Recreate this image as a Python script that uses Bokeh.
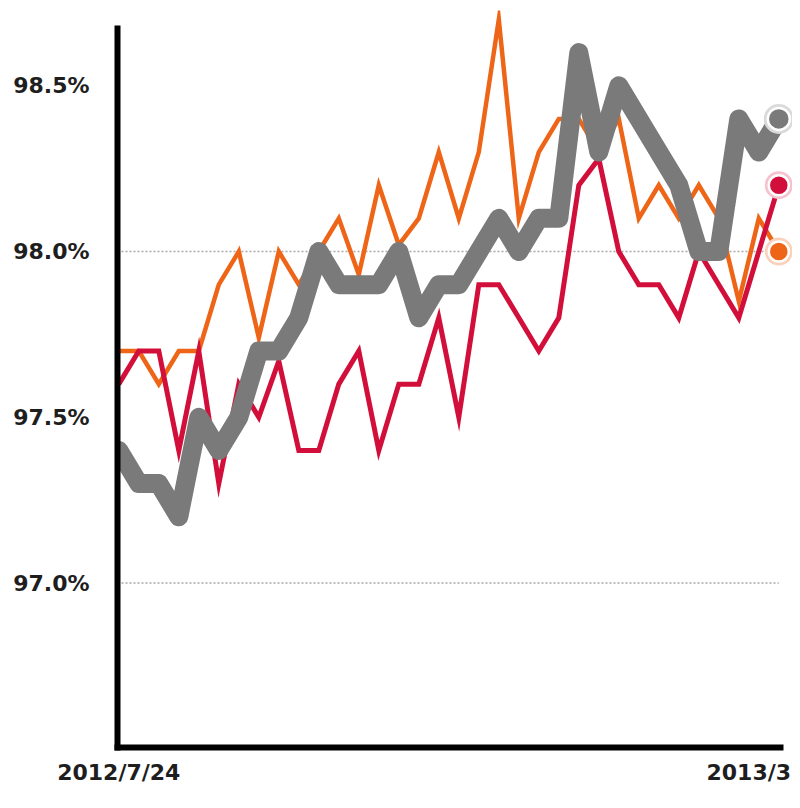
from bokeh.plotting import figure
from bokeh.models import Range1d, FixedTicker, PrintfTickFormatter
from bokeh.embed import file_html
from bokeh.resources import INLINE

# ---- data ----
periods = list(range(34))
series_orange = [97.7, 97.7, 97.6, 97.7, 97.7, 97.9, 98.0, 97.74, 98.0, 97.9,
                 98.0, 98.1, 97.93, 98.2, 98.02, 98.1, 98.3, 98.1, 98.3, 98.7,
                 98.1, 98.3, 98.4, 98.4, 98.3, 98.4, 98.1, 98.2, 98.1, 98.2,
                 98.1, 97.85, 98.1, 98.0]
series_red = [97.6, 97.7, 97.7, 97.4, 97.7, 97.3, 97.6, 97.5, 97.67, 97.4,
              97.4, 97.6, 97.7, 97.4, 97.6, 97.6, 97.8, 97.5, 97.9, 97.9,
              97.8, 97.7, 97.8, 98.2, 98.28, 98.0, 97.9, 97.9, 97.8, 98.0,
              97.9, 97.8, 98.0, 98.2]
series_gray = [97.4, 97.3, 97.3, 97.2, 97.5, 97.4, 97.5, 97.7, 97.7, 97.8,
               98.0, 97.9, 97.9, 97.9, 98.0, 97.8, 97.9, 97.9, 98.0, 98.1,
               98.0, 98.1, 98.1, 98.6, 98.3, 98.5, 98.4, 98.3, 98.2, 98.0,
               98.0, 98.4, 98.3, 98.4]
start_label = "2012/7/24"
end_label = "2013/3"
y_ticks = [97.0, 97.5, 98.0, 98.5]
grid_ticks = [97.0, 98.0]

# ---- styles ----
C_ORANGE = "#EE6518"
C_RED = "#D20F3A"
C_GRAY = "#7A7A7A"
END_LABEL_SHIFT = 1.5   # end label is drawn right-aligned against the edge

x_lo, x_hi, x_axis_end = -0.065, 33.685, 33.085
y_lo, y_hi, y_axis_top = 96.504, 98.727, 98.673

p = figure(width=792, height=800, output_backend="svg", toolbar_location=None,
           x_range=Range1d(x_lo, x_hi), y_range=Range1d(y_lo, y_hi),
           min_border_left=117, min_border_right=0, min_border_top=10,
           min_border_bottom=53)
p.outline_line_color = None
p.background_fill_color = "white"
p.border_fill_color = "white"

# dotted reference lines (grid), ending at the last period
p.xgrid.visible = False
p.ygrid.visible = False
p.segment(x0=[x_lo] * len(grid_ticks), x1=[periods[-1]] * len(grid_ticks),
          y0=grid_ticks, y1=grid_ticks, line_color="#A8A8A8", line_dash="2 2",
          line_width=1.5)

# axes
for ax in (p.xaxis[0], p.yaxis[0]):
    ax.axis_line_color = "black"
    ax.axis_line_width = 6
    ax.axis_line_cap = "square"
    ax.major_tick_line_color = None
    ax.minor_tick_line_color = None
    ax.major_label_text_font = "DejaVu Sans"
    ax.major_label_text_font_style = "bold"
    ax.major_label_text_font_size = "22px"
    ax.major_label_text_color = "#1E1E1E"

p.yaxis.ticker = FixedTicker(ticks=y_ticks)
p.yaxis.formatter = PrintfTickFormatter(format="%.1f%%")
p.yaxis.major_label_standoff = 22
p.yaxis.bounds = (y_lo, y_axis_top)

end_tick = periods[-1] - END_LABEL_SHIFT
p.xaxis.ticker = FixedTicker(ticks=[periods[0], end_tick])
p.xaxis.major_label_overrides = {periods[0]: start_label, end_tick: end_label}
p.xaxis.major_label_standoff = 6
p.xaxis.bounds = (x_lo, x_axis_end)

# lines
p.line(periods, series_orange, line_color=C_ORANGE, line_width=4.5, line_join="miter")
p.line(periods, series_red, line_color=C_RED, line_width=5, line_join="miter")
p.line(periods, series_gray, line_color=C_GRAY, line_width=19, line_join="round",
       line_cap="round")

# end markers
last = periods[-1]
for vals, col, halo, sz in ((series_orange, C_ORANGE, "#FAD2BC", 20),
                            (series_red, C_RED, "#F5C3CE", 20),
                            (series_gray, C_GRAY, "#DADADA", 22)):
    p.scatter([last], [vals[-1]], size=sz + 8, fill_color=halo, line_color=None)
    p.scatter([last], [vals[-1]], size=sz, fill_color=col, line_color="white",
              line_width=2.5)

open("out.html", "w").write(file_html(p, INLINE))
